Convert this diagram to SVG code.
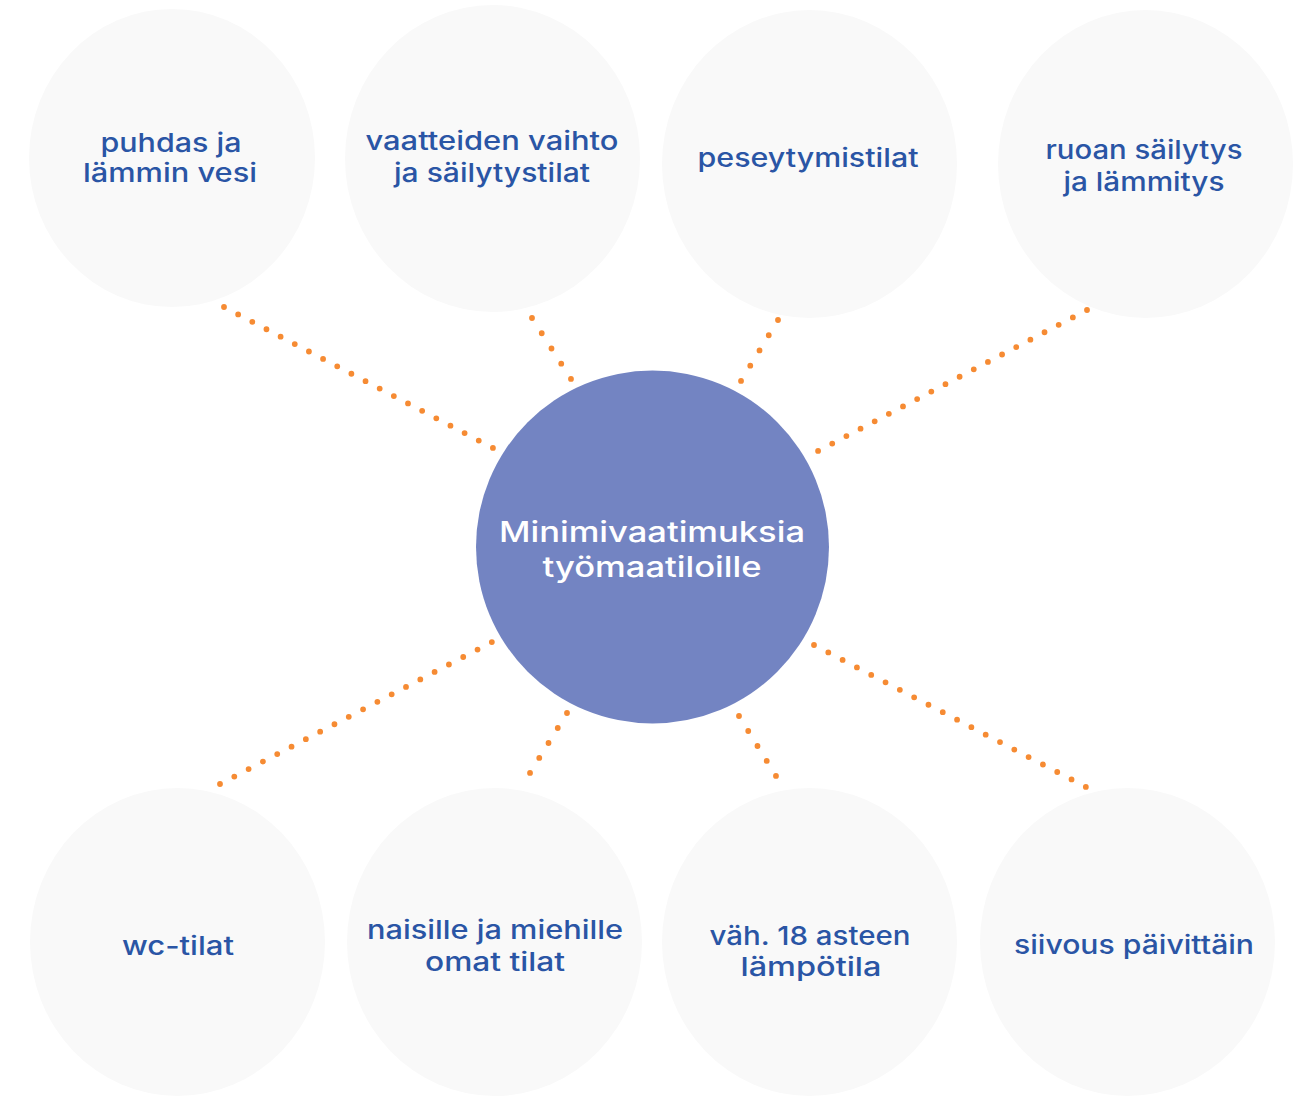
<svg xmlns="http://www.w3.org/2000/svg" width="1299" height="1096" viewBox="0 0 1299 1096">
  <style>
    .node { fill: #f9f9f9; }
    .hub { fill: #7384c2; }
    .label { font-family: Inter, "DejaVu Sans", "Liberation Sans", sans-serif; font-weight: 500; font-size: 26px; fill: #2a55a5; text-anchor: middle; }
    .hub-label { font-family: Inter, "DejaVu Sans", "Liberation Sans", sans-serif; font-weight: 500; font-size: 28px; fill: #ffffff; text-anchor: middle; }
    .link { fill: none; stroke: #f68b33; stroke-width: 5.8; stroke-linecap: round; }
  </style>
  <rect width="1299" height="1096" fill="#ffffff"/>

  <!-- satellite circles -->
  <g id="node-vesi">
    <ellipse class="node" cx="172" cy="158" rx="143" ry="149"/>
    <text class="label" x="171" y="152" textLength="141" lengthAdjust="spacingAndGlyphs">puhdas ja</text>
    <text class="label" x="170" y="182" textLength="174" lengthAdjust="spacingAndGlyphs">lämmin vesi</text>
  </g>
  <g id="node-vaatteet">
    <ellipse class="node" cx="492.5" cy="158.5" rx="147.5" ry="153.5"/>
    <text class="label" x="492" y="150" textLength="253" lengthAdjust="spacingAndGlyphs">vaatteiden vaihto</text>
    <text class="label" x="492" y="182" textLength="196" lengthAdjust="spacingAndGlyphs">ja säilytystilat</text>
  </g>
  <g id="node-peseytyminen">
    <ellipse class="node" cx="809.5" cy="164" rx="147.5" ry="154"/>
    <text class="label" x="808" y="167" textLength="221" lengthAdjust="spacingAndGlyphs">peseytymistilat</text>
  </g>
  <g id="node-ruoka">
    <ellipse class="node" cx="1145.5" cy="164" rx="147.5" ry="154"/>
    <text class="label" x="1144" y="159" textLength="197" lengthAdjust="spacingAndGlyphs">ruoan säilytys</text>
    <text class="label" x="1144" y="191" textLength="161" lengthAdjust="spacingAndGlyphs">ja lämmitys</text>
  </g>
  <g id="node-wc">
    <ellipse class="node" cx="177.5" cy="942" rx="147.5" ry="154"/>
    <text class="label" x="178" y="955" textLength="112" lengthAdjust="spacingAndGlyphs">wc-tilat</text>
  </g>
  <g id="node-omat-tilat">
    <ellipse class="node" cx="494.5" cy="942" rx="147.5" ry="154"/>
    <text class="label" x="495" y="939" textLength="256" lengthAdjust="spacingAndGlyphs">naisille ja miehille</text>
    <text class="label" x="495" y="971" textLength="140" lengthAdjust="spacingAndGlyphs">omat tilat</text>
  </g>
  <g id="node-lampotila">
    <ellipse class="node" cx="809.5" cy="942" rx="147.5" ry="154"/>
    <text class="label" x="810" y="945" textLength="201" lengthAdjust="spacingAndGlyphs">väh. 18 asteen</text>
    <text class="label" x="811" y="976" textLength="141" lengthAdjust="spacingAndGlyphs">lämpötila</text>
  </g>
  <g id="node-siivous">
    <ellipse class="node" cx="1127.5" cy="942" rx="147.5" ry="154"/>
    <text class="label" x="1134" y="954" textLength="240" lengthAdjust="spacingAndGlyphs">siivous päivittäin</text>
  </g>

  <!-- dotted spokes -->
  <g id="connectors">
    <path class="link" d="M224 307 L493 448" stroke-dasharray="0 15.98"/>
    <path class="link" d="M532 318 L571 379" stroke-dasharray="0 18.09"/>
    <path class="link" d="M778 320 L741 381" stroke-dasharray="0 17.82"/>
    <path class="link" d="M1087 310 L818 451" stroke-dasharray="0 15.98"/>
    <path class="link" d="M220 784 L492 642" stroke-dasharray="0 16.14"/>
    <path class="link" d="M567 713 L530 773" stroke-dasharray="0 17.61"/>
    <path class="link" d="M739 716 L776 776" stroke-dasharray="0 17.61"/>
    <path class="link" d="M814 645 L1086 787" stroke-dasharray="0 16.14"/>
  </g>

  <!-- central hub -->
  <g id="node-hub">
    <circle class="hub" cx="652.5" cy="547" r="176.5"/>
    <text class="hub-label" x="652" y="542" textLength="306" lengthAdjust="spacingAndGlyphs">Minimivaatimuksia</text>
    <text class="hub-label" x="652" y="577" textLength="219" lengthAdjust="spacingAndGlyphs">työmaatiloille</text>
  </g>
</svg>
